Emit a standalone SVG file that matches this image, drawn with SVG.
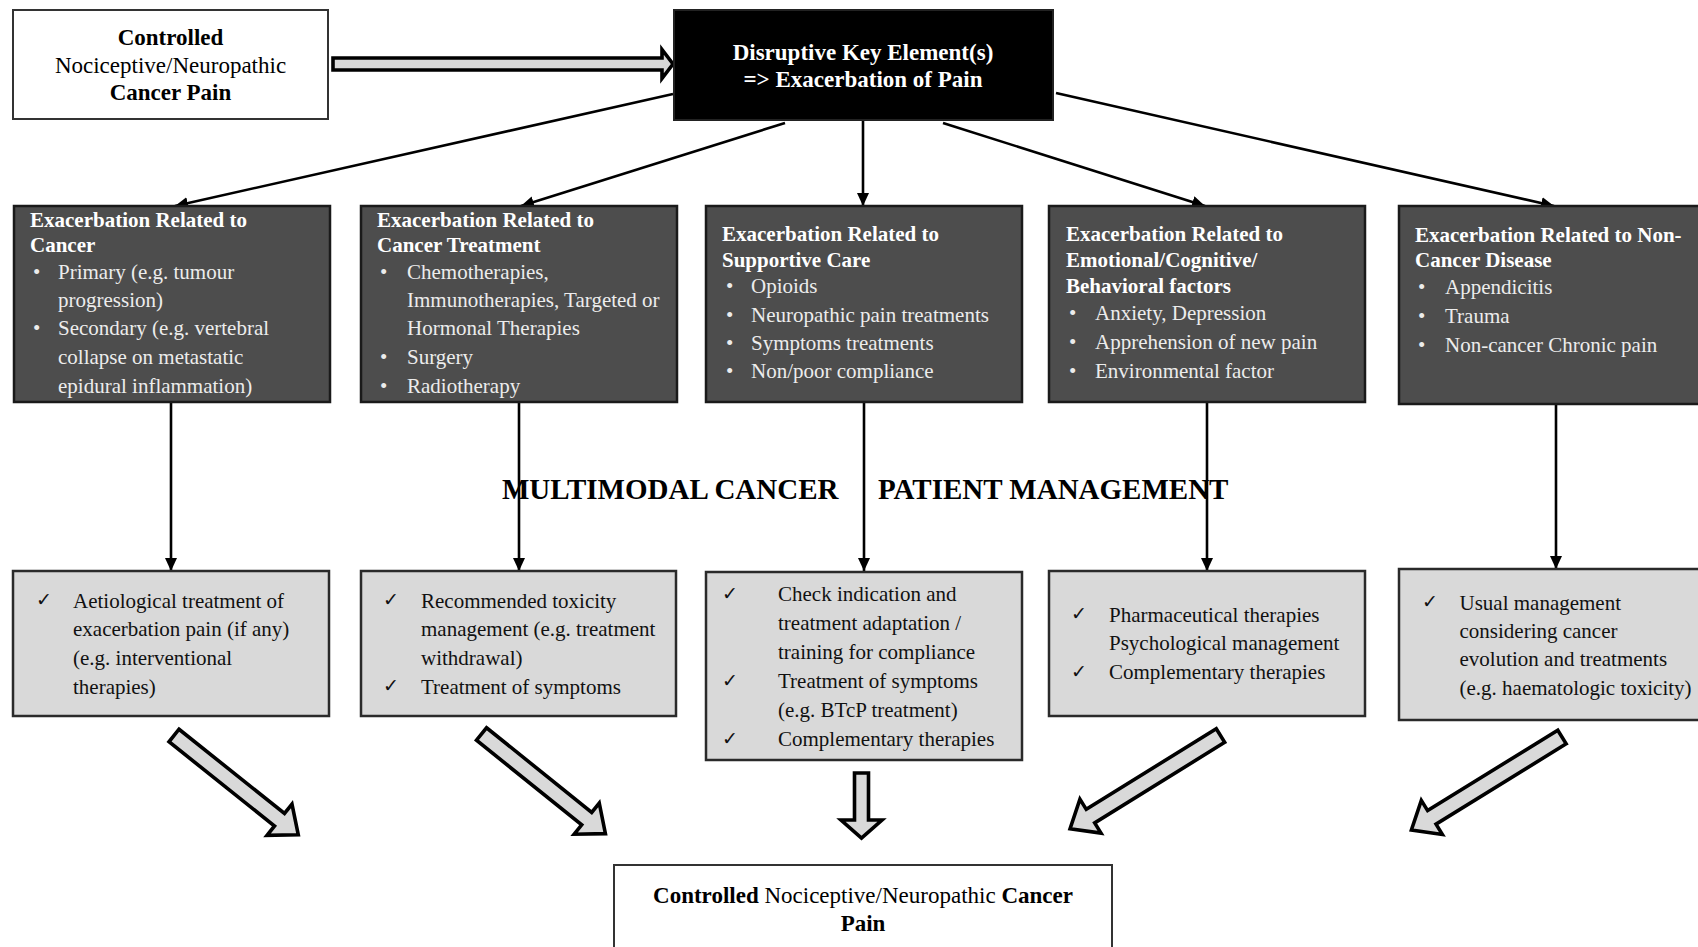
<svg xmlns="http://www.w3.org/2000/svg" width="1698" height="947" viewBox="0 0 1698 947">
<defs>
<style>
text{font-family:"Liberation Serif","Times New Roman",serif;}
.wbox{fill:#fff;stroke:#333;stroke-width:2;}
.blk{fill:#000;stroke:#222;stroke-width:2;}
.dark{fill:#4d4d4d;stroke:#1a1a1a;stroke-width:2.5;}
.light{fill:#d9d9d9;stroke:#2a2a2a;stroke-width:2.5;}
.t23{font-size:23px;fill:#000;}
.tw{font-size:23px;fill:#fff;font-weight:bold;}
.dt{font-size:21px;fill:#fff;font-weight:bold;}
.db{font-size:21px;fill:#ececec;}
.lb{font-size:21px;fill:#111;}
.ck{font-family:"DejaVu Sans",sans-serif;font-size:19px;fill:#111;}
.b{font-weight:bold;}
.head{font-size:29px;font-weight:bold;fill:#000;}
.conn{stroke:#000;stroke-width:2.6;fill:none;marker-end:url(#ah);}
.blockarrow{fill:#d9d9d9;stroke:#000;stroke-width:3.6;stroke-linejoin:miter;}
</style>
<marker id="ah" markerUnits="userSpaceOnUse" markerWidth="14" markerHeight="12" refX="13" refY="6" orient="auto">
<path d="M0,0 L13,6 L0,12 Z" fill="#000"/>
</marker>
<path id="diag" d="M0,-8 L135,-8 L135,-20 L159,0 L135,20 L135,8 L0,8 Z"/>
<path id="diagL" d="M0,-8 L153,-8 L153,-20 L177,0 L153,20 L153,8 L0,8 Z"/>
</defs>

<g id="connectors">
<path class="conn" d="M673,94 L175,206"/>
<path class="conn" d="M785,123 L521,206"/>
<path class="conn" d="M863,120 L863,206"/>
<path class="conn" d="M943,123 L1205,206"/>
<path class="conn" d="M1056,93 L1554,206"/>
<path class="conn" d="M171,402 L171,571"/>
<path class="conn" d="M519,402 L519,571"/>
<path class="conn" d="M864,402 L864,571"/>
<path class="conn" d="M1207,402 L1207,571"/>
<path class="conn" d="M1556,404 L1556,569"/>
<path class="blockarrow" d="M333,58 L662,58 L662,49.5 L673,64 L662,78.5 L662,70 L333,70 Z"/>
<use href="#diag" class="blockarrow" transform="translate(174,735.5) rotate(38.6)"/>
<use href="#diag" class="blockarrow" transform="translate(481.5,734) rotate(38.8)"/>
<path class="blockarrow" d="M854.5,773 L868.5,773 L868.5,820 L882,820 L861.5,838 L841,820 L854.5,820 Z"/>
<use href="#diagL" class="blockarrow" transform="translate(1220.5,735.5) rotate(148.2)"/>
<use href="#diagL" class="blockarrow" transform="translate(1562,737) rotate(148.3)"/>
</g>

<g id="n_top">
<rect class="wbox" x="13" y="10" width="315" height="109"/>
<text class="t23 b" x="170.5" y="45" text-anchor="middle">Controlled</text>
<text class="t23" x="170.5" y="72.5" text-anchor="middle">Nociceptive/Neuropathic</text>
<text class="t23 b" x="170.5" y="100" text-anchor="middle">Cancer Pain</text>
</g>

<g id="n_disruptive">
<rect class="blk" x="674" y="10" width="379" height="110"/>
<text class="tw" x="863" y="60" text-anchor="middle">Disruptive Key Element(s)</text>
<text class="tw" x="863" y="87" text-anchor="middle">=&gt; Exacerbation of Pain</text>
</g>

<g id="n_cancer">
<rect class="dark" x="14" y="206" width="316" height="196"/>
<text class="dt" x="30" y="226.5">Exacerbation Related to</text>
<text class="dt" x="30" y="251.5">Cancer</text>
<text class="db" x="33" y="278.5">•</text>
<text class="db" x="58" y="278.5">Primary (e.g. tumour</text>
<text class="db" x="58" y="307">progression)</text>
<text class="db" x="33" y="335">•</text>
<text class="db" x="58" y="335">Secondary (e.g. vertebral</text>
<text class="db" x="58" y="364">collapse on metastatic</text>
<text class="db" x="58" y="393">epidural inflammation)</text>
</g>

<g id="n_treatment">
<rect class="dark" x="361" y="206" width="316" height="196"/>
<text class="dt" x="377" y="226.5">Exacerbation Related to</text>
<text class="dt" x="377" y="251.5">Cancer Treatment</text>
<text class="db" x="380" y="278.5">•</text>
<text class="db" x="407" y="278.5">Chemotherapies,</text>
<text class="db" x="407" y="307">Immunotherapies, Targeted or</text>
<text class="db" x="407" y="335">Hormonal Therapies</text>
<text class="db" x="380" y="364">•</text>
<text class="db" x="407" y="364">Surgery</text>
<text class="db" x="380" y="392.5">•</text>
<text class="db" x="407" y="392.5">Radiotherapy</text>
</g>

<g id="n_supportive">
<rect class="dark" x="706" y="206" width="316" height="196"/>
<text class="dt" x="722" y="240.5">Exacerbation Related to</text>
<text class="dt" x="722" y="266.5">Supportive Care</text>
<text class="db" x="726" y="292.5">•</text>
<text class="db" x="751" y="292.5">Opioids</text>
<text class="db" x="726" y="321.5">•</text>
<text class="db" x="751" y="321.5">Neuropathic pain treatments</text>
<text class="db" x="726" y="350">•</text>
<text class="db" x="751" y="350">Symptoms treatments</text>
<text class="db" x="726" y="378">•</text>
<text class="db" x="751" y="378">Non/poor compliance</text>
</g>

<g id="n_emotional">
<rect class="dark" x="1049" y="206" width="316" height="196"/>
<text class="dt" x="1066" y="240.5">Exacerbation Related to</text>
<text class="dt" x="1066" y="266.5">Emotional/Cognitive/</text>
<text class="dt" x="1066" y="292.5">Behavioral factors</text>
<text class="db" x="1069" y="320">•</text>
<text class="db" x="1095" y="320">Anxiety, Depression</text>
<text class="db" x="1069" y="349">•</text>
<text class="db" x="1095" y="349">Apprehension of new pain</text>
<text class="db" x="1069" y="377.5">•</text>
<text class="db" x="1095" y="377.5">Environmental factor</text>
</g>

<g id="n_noncancer">
<rect class="dark" x="1399" y="206" width="310" height="198"/>
<text class="dt" x="1415" y="241.5">Exacerbation Related to Non-</text>
<text class="dt" x="1415" y="267">Cancer Disease</text>
<text class="db" x="1418" y="294">•</text>
<text class="db" x="1445" y="294">Appendicitis</text>
<text class="db" x="1418" y="322.5">•</text>
<text class="db" x="1445" y="322.5">Trauma</text>
<text class="db" x="1418" y="351.5">•</text>
<text class="db" x="1445" y="351.5">Non-cancer Chronic pain</text>
</g>

<g id="heading">
<text class="head" x="502" y="499">MULTIMODAL CANCER</text>
<text class="head" x="878" y="499">PATIENT MANAGEMENT</text>
</g>

<g id="m_cancer">
<rect class="light" x="13" y="571" width="316" height="145"/>
<text class="ck" x="36" y="606">✓</text>
<text class="lb" x="73" y="607.5">Aetiological treatment of</text>
<text class="lb" x="73" y="636">exacerbation pain (if any)</text>
<text class="lb" x="73" y="665">(e.g. interventional</text>
<text class="lb" x="73" y="693.5">therapies)</text>
</g>

<g id="m_treatment">
<rect class="light" x="361" y="571" width="315" height="145"/>
<text class="ck" x="383" y="606">✓</text>
<text class="lb" x="421" y="607.5">Recommended toxicity</text>
<text class="lb" x="421" y="636">management (e.g. treatment</text>
<text class="lb" x="421" y="665">withdrawal)</text>
<text class="ck" x="383" y="692">✓</text>
<text class="lb" x="421" y="693.5">Treatment of symptoms</text>
</g>

<g id="m_supportive">
<rect class="light" x="706" y="572" width="316" height="188"/>
<text class="ck" x="722" y="599.5">✓</text>
<text class="lb" x="778" y="601">Check indication and</text>
<text class="lb" x="778" y="630">treatment adaptation /</text>
<text class="lb" x="778" y="658.5">training for compliance</text>
<text class="ck" x="722" y="686.5">✓</text>
<text class="lb" x="778" y="688">Treatment of symptoms</text>
<text class="lb" x="778" y="717">(e.g. BTcP treatment)</text>
<text class="ck" x="722" y="744.5">✓</text>
<text class="lb" x="778" y="746">Complementary therapies</text>
</g>

<g id="m_emotional">
<rect class="light" x="1049" y="571" width="316" height="145"/>
<text class="ck" x="1071" y="620">✓</text>
<text class="lb" x="1109" y="621.5">Pharmaceutical therapies</text>
<text class="lb" x="1109" y="650">Psychological management</text>
<text class="ck" x="1071" y="677.5">✓</text>
<text class="lb" x="1109" y="679">Complementary therapies</text>
</g>

<g id="m_noncancer">
<rect class="light" x="1399" y="569" width="310" height="151"/>
<text class="ck" x="1422" y="608">✓</text>
<text class="lb" x="1459.5" y="609.5">Usual management</text>
<text class="lb" x="1459.5" y="637.5">considering cancer</text>
<text class="lb" x="1459.5" y="666">evolution and treatments</text>
<text class="lb" x="1459.5" y="695">(e.g. haematologic toxicity)</text>
</g>

<g id="n_result">
<rect class="wbox" x="614" y="865" width="498" height="95"/>
<text class="t23" x="863" y="903" text-anchor="middle"><tspan class="b">Controlled</tspan> Nociceptive/Neuropathic <tspan class="b">Cancer</tspan></text>
<text class="t23 b" x="863" y="931" text-anchor="middle">Pain</text>
</g>
</svg>
